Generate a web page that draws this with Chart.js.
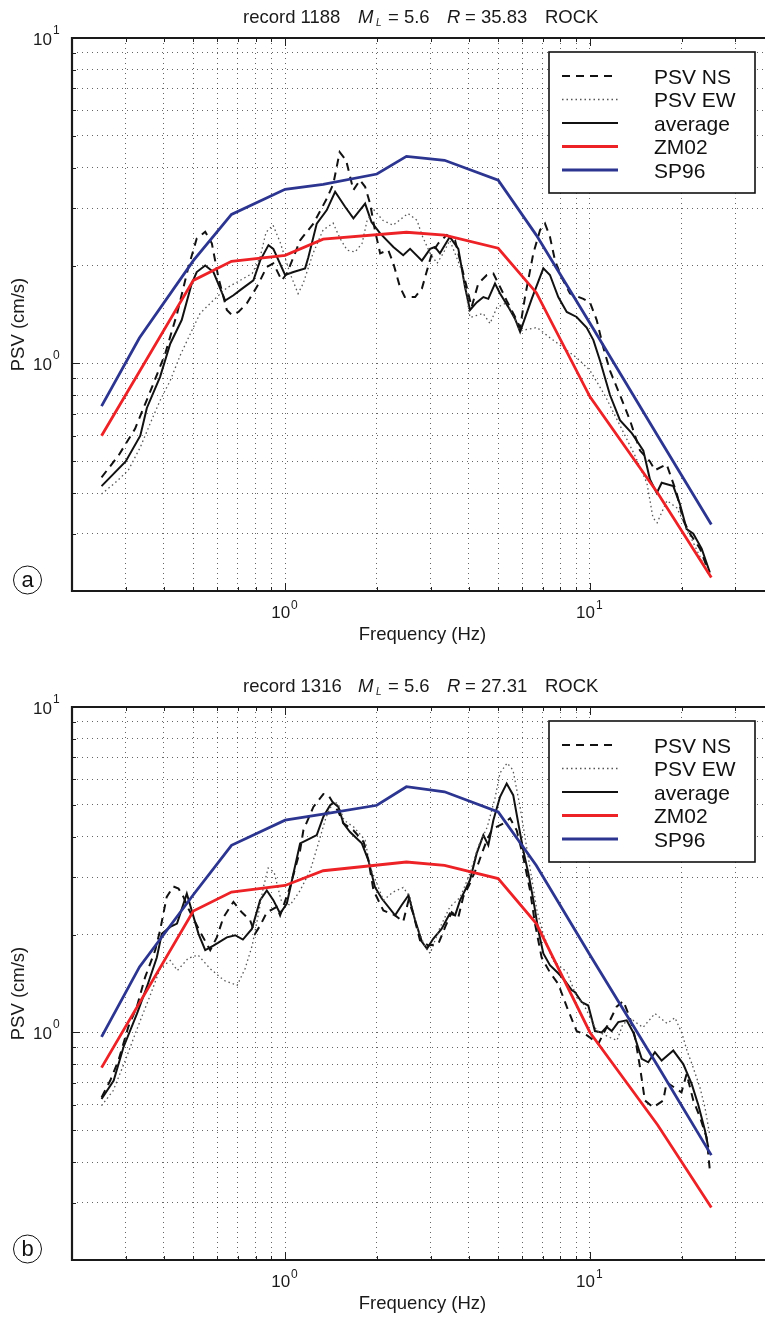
<!DOCTYPE html>
<html>
<head>
<meta charset="utf-8">
<script src="https://cdn.jsdelivr.net/npm/chart.js@4.4.0/dist/chart.umd.min.js"></script>
<style>
  html, body { margin: 0; padding: 0; background: #fff; }
  #wrap { position: relative; width: 765px; height: 1317px; overflow: hidden; }
  canvas { position: absolute; left: 0; }
</style>
</head>
<body>
<div id="wrap">
  <canvas id="chartA" width="765" height="669" style="top:0"></canvas>
  <canvas id="chartB" width="765" height="648" style="top:669px"></canvas>
</div>
<script>
// grid / tick positions (Hz and cm/s)
const xGrid = [0.2, 0.3, 0.4, 0.5, 0.6, 0.7, 0.8, 0.9, 1, 2, 3, 4, 5, 6, 7, 8, 9, 10, 20, 30];
const yGrid = [0.2, 0.3, 0.4, 0.5, 0.6, 0.7, 0.8, 0.9, 1, 2, 3, 4, 5, 6, 7, 8, 9, 10];

// model curves
const zmFreq = [0.25, 0.5, 0.667, 1, 1.333, 2.5, 3.333, 5, 6.667, 10, 16.67, 25];
const zmA = [0.60, 1.80, 2.06, 2.15, 2.41, 2.53, 2.48, 2.26, 1.65, 0.79, 0.40, 0.22];
const zmB = [0.78, 2.36, 2.70, 2.83, 3.14, 3.34, 3.26, 2.97, 2.16, 1.00, 0.52, 0.29];
const spFreq = [0.25, 0.333, 0.5, 0.667, 1, 1.333, 2, 2.5, 3.333, 5, 6.667, 10, 16.67, 25];
const spA = [0.74, 1.20, 2.07, 2.87, 3.43, 3.55, 3.82, 4.33, 4.21, 3.66, 2.48, 1.33, 0.60, 0.32];
const spB = [0.97, 1.59, 2.65, 3.76, 4.49, 4.69, 4.99, 5.69, 5.49, 4.76, 3.26, 1.73, 0.79, 0.42];

// record 1188
const nsFreqA = [0.25, 0.284, 0.322, 0.366, 0.404, 0.442, 0.482, 0.513, 0.547, 0.575, 0.604, 0.644, 0.669, 0.703, 0.749, 0.808, 0.871, 0.915, 0.975, 1.013, 1.065, 1.12, 1.238, 1.37, 1.44, 1.51, 1.585, 1.675, 1.76, 1.83, 1.90, 1.97, 2.05, 2.18, 2.265, 2.38, 2.47, 2.67, 2.81, 2.92, 3.03, 3.18, 3.39, 3.61, 3.75, 3.94, 4.09, 4.30, 4.59, 4.82, 5.07, 5.33, 5.68, 5.90, 6.12, 6.52, 6.86, 7.12, 7.39, 7.68, 8.07, 8.60, 9.51, 10.0, 10.52, 11.06, 11.63, 12.54, 13.52, 14.59, 15.73, 16.33, 17.84, 19.24, 20.23, 21.28, 22.95, 24.43];
const nsA = [0.447, 0.521, 0.63, 0.846, 1.07, 1.42, 1.98, 2.42, 2.54, 2.34, 1.84, 1.46, 1.41, 1.44, 1.53, 1.72, 1.98, 2.03, 1.80, 1.89, 2.12, 2.39, 2.69, 3.21, 3.57, 4.46, 4.21, 3.41, 3.66, 3.49, 3.10, 2.57, 2.18, 2.23, 2.03, 1.72, 1.60, 1.60, 1.70, 1.93, 2.18, 2.34, 2.48, 2.39, 2.07, 1.72, 1.49, 1.76, 1.87, 1.89, 1.72, 1.56, 1.39, 1.29, 1.60, 2.18, 2.57, 2.69, 2.45, 2.07, 1.84, 1.64, 1.58, 1.54, 1.36, 1.12, 0.95, 0.80, 0.67, 0.54, 0.50, 0.47, 0.49, 0.40, 0.33, 0.30, 0.27, 0.231];
const ewFreqA = [0.25, 0.277, 0.306, 0.335, 0.361, 0.389, 0.42, 0.453, 0.494, 0.526, 0.581, 0.645, 0.712, 0.78, 0.828, 0.866, 0.913, 0.963, 1.038, 1.103, 1.146, 1.235, 1.332, 1.437, 1.515, 1.597, 1.696, 1.789, 1.857, 1.958, 2.096, 2.26, 2.53, 2.71, 2.81, 2.99, 3.15, 3.30, 3.47, 3.83, 4.04, 4.46, 4.70, 4.95, 5.35, 5.90, 6.70, 7.39, 8.16, 9.06, 10.0, 11.2, 12.54, 14.05, 15.38, 16.09, 16.6, 17.89, 19.28, 20.33, 22.08, 24.4];
const ewA = [0.397, 0.43, 0.47, 0.553, 0.654, 0.77, 0.886, 1.06, 1.26, 1.425, 1.563, 1.71, 1.80, 1.89, 2.12, 2.53, 2.66, 2.36, 1.89, 1.64, 1.76, 2.18, 2.57, 2.70, 2.42, 2.23, 2.20, 2.34, 2.75, 2.96, 2.75, 2.66, 2.89, 2.75, 2.48, 2.18, 2.03, 2.18, 2.39, 1.89, 1.385, 1.425, 1.327, 1.486, 1.54, 1.26, 1.29, 1.20, 1.12, 1.04, 0.952, 0.797, 0.645, 0.521, 0.428, 0.336, 0.324, 0.379, 0.36, 0.324, 0.275, 0.226];
const avFreqA = [0.25, 0.30, 0.335, 0.352, 0.389, 0.42, 0.458, 0.494, 0.513, 0.547, 0.582, 0.636, 0.677, 0.712, 0.787, 0.828, 0.882, 0.915, 1.0, 1.065, 1.163, 1.192, 1.27, 1.37, 1.459, 1.573, 1.675, 1.83, 1.92, 2.05, 2.265, 2.44, 2.57, 2.81, 2.99, 3.10, 3.22, 3.47, 3.70, 3.89, 4.04, 4.25, 4.47, 4.64, 4.88, 5.07, 5.40, 5.68, 5.90, 6.44, 7.03, 7.39, 7.87, 8.39, 9.04, 9.75, 10.26, 10.79, 11.63, 12.54, 13.73, 14.96, 15.73, 16.56, 17.19, 18.76, 19.72, 20.75, 21.82, 23.24, 24.73];
const avA = [0.42, 0.50, 0.60, 0.73, 0.91, 1.15, 1.36, 1.76, 1.91, 2.00, 1.91, 1.56, 1.62, 1.68, 1.80, 2.07, 2.31, 2.25, 1.87, 1.91, 1.96, 2.12, 2.69, 2.96, 3.37, 3.03, 2.79, 3.10, 2.72, 2.51, 2.28, 2.15, 2.25, 2.07, 2.25, 2.28, 2.18, 2.45, 2.25, 1.72, 1.46, 1.54, 1.60, 1.58, 1.76, 1.64, 1.49, 1.37, 1.25, 1.58, 1.96, 1.87, 1.60, 1.44, 1.39, 1.29, 1.18, 1.02, 0.80, 0.67, 0.61, 0.54, 0.44, 0.40, 0.43, 0.42, 0.37, 0.31, 0.30, 0.27, 0.228];

// record 1316
const nsFreqB = [0.25, 0.267, 0.284, 0.306, 0.3265, 0.3475, 0.375, 0.389, 0.409, 0.43, 0.447, 0.464, 0.482, 0.526, 0.568, 0.597, 0.628, 0.677, 0.721, 0.768, 0.797, 0.828, 0.871, 0.939, 0.963, 1.038, 1.12, 1.148, 1.238, 1.335, 1.387, 1.496, 1.553, 1.675, 1.81, 1.876, 1.95, 2.10, 2.295, 2.44, 2.54, 2.63, 2.77, 2.95, 3.18, 3.35, 3.52, 3.70, 3.84, 4.04, 4.30, 4.42, 4.59, 4.76, 4.94, 5.20, 5.47, 5.75, 6.04, 6.36, 6.6, 6.94, 7.39, 7.87, 8.39, 9.04, 9.78, 10.65, 11.35, 12.23, 12.86, 13.52, 14.05, 14.59, 15.14, 16.13, 17.39, 17.84, 19.96, 20.75, 21.82, 22.95, 24.13, 24.73];
const nsB = [0.632, 0.712, 0.82, 1.04, 1.20, 1.48, 1.79, 2.06, 2.61, 2.81, 2.77, 2.61, 2.40, 2.04, 1.79, 1.96, 2.26, 2.52, 2.34, 2.21, 2.01, 2.13, 2.34, 2.43, 2.29, 2.80, 3.63, 4.18, 4.93, 5.40, 5.36, 4.76, 4.39, 4.18, 3.85, 3.38, 2.73, 2.37, 2.29, 2.19, 2.55, 2.32, 1.92, 1.85, 1.87, 2.11, 2.34, 2.26, 2.61, 2.87, 3.30, 3.55, 3.90, 4.18, 4.28, 4.39, 4.55, 4.18, 3.46, 2.73, 2.16, 1.70, 1.53, 1.41, 1.20, 1.01, 0.98, 0.923, 1.04, 1.20, 1.25, 1.11, 0.967, 0.782, 0.618, 0.589, 0.618, 0.703, 0.655, 0.746, 0.618, 0.549, 0.476, 0.376];
const ewFreqB = [0.25, 0.273, 0.299, 0.33, 0.361, 0.389, 0.42, 0.443, 0.481, 0.518, 0.568, 0.631, 0.696, 0.739, 0.78, 0.816, 0.847, 0.88, 0.92, 0.97, 1.038, 1.12, 1.21, 1.28, 1.363, 1.437, 1.49, 1.561, 1.683, 1.83, 1.90, 2.00, 2.10, 2.26, 2.44, 2.57, 2.71, 2.88, 2.99, 3.22, 3.47, 3.75, 4.04, 4.29, 4.60, 4.88, 5.07, 5.35, 5.59, 5.90, 6.22, 6.70, 7.01, 7.56, 8.41, 9.06, 9.49, 10.54, 11.63, 12.26, 12.84, 13.84, 14.92, 16.33, 17.89, 19.0, 20.03, 20.8, 21.6, 22.95, 23.83, 24.73];
const ewB = [0.596, 0.663, 0.82, 1.05, 1.30, 1.57, 1.665, 1.55, 1.69, 1.73, 1.57, 1.445, 1.395, 1.57, 1.85, 2.29, 2.77, 3.20, 3.11, 2.55, 2.46, 2.73, 3.15, 3.76, 4.59, 5.10, 5.06, 4.49, 4.27, 3.90, 3.22, 2.87, 2.55, 2.70, 2.79, 2.60, 2.10, 1.83, 1.75, 2.10, 2.43, 2.60, 3.08, 3.71, 4.27, 5.25, 6.27, 6.73, 6.40, 4.92, 3.63, 2.37, 2.02, 1.665, 1.53, 1.28, 1.23, 1.01, 0.965, 0.945, 1.066, 1.09, 1.036, 1.144, 1.066, 1.11, 0.993, 0.88, 0.80, 0.677, 0.588, 0.482];
const avFreqB = [0.25, 0.274, 0.295, 0.3265, 0.352, 0.3795, 0.394, 0.42, 0.442, 0.476, 0.494, 0.52, 0.547, 0.582, 0.644, 0.686, 0.727, 0.778, 0.828, 0.871, 0.915, 0.963, 1.013, 1.065, 1.12, 1.178, 1.27, 1.335, 1.405, 1.44, 1.496, 1.553, 1.633, 1.785, 1.876, 1.97, 2.075, 2.295, 2.41, 2.54, 2.67, 2.81, 2.92, 3.06, 3.26, 3.47, 3.61, 3.75, 3.89, 4.04, 4.25, 4.47, 4.64, 4.82, 5.07, 5.33, 5.60, 5.82, 6.04, 6.28, 6.52, 6.77, 7.03, 7.39, 7.87, 8.26, 8.71, 8.93, 9.39, 9.87, 10.38, 10.92, 11.35, 11.78, 12.38, 13.19, 13.87, 14.78, 15.53, 16.33, 17.18, 18.76, 20.23, 21.55, 22.65, 23.83, 24.43];
const avB = [0.625, 0.712, 0.901, 1.14, 1.38, 1.70, 2.01, 2.11, 2.16, 2.67, 2.37, 2.01, 1.79, 1.85, 1.96, 1.99, 1.93, 2.08, 2.55, 2.73, 2.55, 2.32, 2.49, 3.08, 3.81, 3.90, 4.04, 4.60, 4.99, 5.08, 4.93, 4.39, 4.13, 3.81, 3.38, 2.80, 2.58, 2.29, 2.46, 2.64, 2.21, 1.90, 1.81, 1.94, 2.08, 2.32, 2.29, 2.55, 2.73, 2.94, 3.55, 4.04, 3.76, 4.49, 5.30, 5.82, 5.36, 4.39, 3.63, 3.08, 2.55, 2.06, 1.75, 1.61, 1.52, 1.445, 1.35, 1.33, 1.24, 1.21, 1.01, 1.00, 1.04, 1.01, 1.076, 1.09, 1.00, 0.83, 0.81, 0.87, 0.82, 0.88, 0.80, 0.695, 0.60, 0.50, 0.444];

const FONT = '"Liberation Sans", Arial, Helvetica, sans-serif';
const RED = '#ec2227';
const BLUE = '#2c3590';

function pts(fs, vs) {
    return fs.map((f, i) => ({ x: f, y: vs[i] }));
}

function isDecade(v) {
    const l = Math.log10(v);
    return Math.abs(l - Math.round(l)) < 1e-6;
}

// axes box, inner ticks, labels, legend, panel letter
const decor = {
    id: 'decor',
    afterDraw(chart) {
        const o = chart.options.plugins.decor;
        const ctx = chart.ctx;
        const a = chart.chartArea;
        const xs = chart.scales.x, ys = chart.scales.y;
        ctx.save();

        ctx.strokeStyle = '#222';
        ctx.lineWidth = 1;
        ctx.beginPath();
        xs.ticks.forEach(t => {
            const px = Math.round(xs.getPixelForValue(t.value)) + 0.5;
            const len = isDecade(t.value) ? 8 : 4;
            ctx.moveTo(px, a.bottom); ctx.lineTo(px, a.bottom - len);
            ctx.moveTo(px, a.top); ctx.lineTo(px, a.top + len);
        });
        ys.ticks.forEach(t => {
            const py = Math.round(ys.getPixelForValue(t.value)) + 0.5;
            const len = isDecade(t.value) ? 8 : 4;
            ctx.moveTo(a.left, py); ctx.lineTo(a.left + len, py);
        });
        ctx.stroke();

        // box
        ctx.lineWidth = 2.2;
        ctx.strokeStyle = '#1a1a1a';
        ctx.beginPath();
        ctx.moveTo(a.right + 2, a.top);
        ctx.lineTo(a.left, a.top);
        ctx.lineTo(a.left, a.bottom);
        ctx.lineTo(a.right + 2, a.bottom);
        ctx.stroke();

        // tick labels 10^n
        ctx.fillStyle = '#1a1a1a';
        ctx.textBaseline = 'alphabetic';
        xs.ticks.forEach(t => {
            if (!isDecade(t.value)) return;
            const px = xs.getPixelForValue(t.value);
            ctx.font = '17px ' + FONT;
            ctx.textAlign = 'right';
            ctx.fillText('10', px + 5, a.bottom + 27);
            ctx.font = '12px ' + FONT;
            ctx.textAlign = 'left';
            ctx.fillText(String(Math.round(Math.log10(t.value))), px + 6, a.bottom + 18);
        });
        ys.ticks.forEach(t => {
            if (!isDecade(t.value)) return;
            const py = ys.getPixelForValue(t.value);
            ctx.font = '17px ' + FONT;
            ctx.textAlign = 'right';
            ctx.fillText('10', 52, py + 7);
            ctx.font = '12px ' + FONT;
            ctx.textAlign = 'left';
            ctx.fillText(String(Math.round(Math.log10(t.value))), 53, py - 4);
        });

        // axis titles
        ctx.font = '18.5px ' + FONT;
        ctx.textAlign = 'center';
        ctx.fillText('Frequency (Hz)', 422.5, a.bottom + 49);
        ctx.save();
        ctx.translate(24, (a.top + a.bottom) / 2 + 10);
        ctx.rotate(-Math.PI / 2);
        ctx.fillText('PSV (cm/s)', 0, 0);
        ctx.restore();

        // title
        const ty = 23;
        ctx.textAlign = 'left';
        ctx.font = '18.5px ' + FONT;
        ctx.fillText('record ' + o.record, 243, ty);
        ctx.font = 'italic 18.5px ' + FONT;
        ctx.fillText('M', 358, ty);
        ctx.font = 'italic 10px ' + FONT;
        ctx.fillText('L', 376, ty + 3);
        ctx.font = '18.5px ' + FONT;
        ctx.fillText('= ' + o.ml, 388, ty);
        ctx.font = 'italic 18.5px ' + FONT;
        ctx.fillText('R', 447, ty);
        ctx.font = '18.5px ' + FONT;
        ctx.fillText('= ' + o.dist, 465, ty);
        ctx.fillText(o.site, 545, ty);

        // legend
        const L = 549, T = a.top + 14, W = 206, H = 141;
        ctx.fillStyle = '#fff';
        ctx.fillRect(L, T, W, H);
        ctx.lineWidth = 1.6;
        ctx.strokeStyle = '#111';
        ctx.strokeRect(L, T, W, H);
        chart.data.datasets.forEach((ds, i) => {
            const y = T + 24 + 23.5 * i;
            ctx.save();
            ctx.strokeStyle = ds.borderColor;
            ctx.lineWidth = ds.borderWidth;
            ctx.setLineDash(ds.borderDash || []);
            ctx.beginPath();
            ctx.moveTo(562, y);
            ctx.lineTo(618, y);
            ctx.stroke();
            ctx.restore();
            ctx.fillStyle = '#111';
            ctx.font = '21px ' + FONT;
            ctx.textAlign = 'left';
            ctx.fillText(ds.label, 654, y + 7.5);
        });

        // panel letter
        ctx.lineWidth = 1;
        ctx.strokeStyle = '#111';
        ctx.beginPath();
        ctx.arc(27.5, a.bottom - 11, 14, 0, Math.PI * 2);
        ctx.stroke();
        ctx.fillStyle = '#111';
        ctx.font = '22px ' + FONT;
        ctx.textAlign = 'center';
        ctx.fillText(o.letter, 27.5, a.bottom - 4);

        ctx.restore();
    }
};

function makeChart(id, h, series, info) {
    const gridStyle = { color: 'rgba(0,0,0,0.6)', lineWidth: 1, drawTicks: false };
    new Chart(document.getElementById(id).getContext('2d'), {
        type: 'scatter',
        data: {
            datasets: [
                { label: 'PSV NS', data: pts(series.nsF, series.ns), borderColor: '#111', borderWidth: 2, borderDash: [8, 6], order: 1 },
                { label: 'PSV EW', data: pts(series.ewF, series.ew), borderColor: '#555', borderWidth: 1.3, borderDash: [1.5, 3], order: 1 },
                { label: 'average', data: pts(series.avF, series.av), borderColor: '#111', borderWidth: 2, order: 1 },
                { label: 'ZM02', data: pts(zmFreq, series.zm), borderColor: RED, borderWidth: 2.8, order: 0 },
                { label: 'SP96', data: pts(spFreq, series.sp), borderColor: BLUE, borderWidth: 2.8, order: 0 }
            ].map(d => Object.assign(d, { showLine: true, pointRadius: 0, fill: false, tension: 0 }))
        },
        options: {
            responsive: false,
            animation: false,
            devicePixelRatio: 1,
            layout: { padding: { top: 38, left: 0, right: 0, bottom: 0 } },
            plugins: {
                legend: { display: false },
                title: { display: false },
                tooltip: { enabled: false },
                decor: info
            },
            scales: {
                x: {
                    type: 'logarithmic', position: 'bottom', min: 0.2, max: 37.5,
                    afterBuildTicks: s => { s.ticks = xGrid.map(v => ({ value: v })); },
                    afterFit: s => { s.height = h - 591; },
                    ticks: { display: false },
                    grid: gridStyle,
                    border: { display: false, dash: [1, 4] }
                },
                y: {
                    type: 'logarithmic', position: 'left', min: 0.2, max: 10,
                    afterBuildTicks: s => { s.ticks = yGrid.map(v => ({ value: v })); },
                    afterFit: s => { s.width = 72; },
                    ticks: { display: false },
                    grid: gridStyle,
                    border: { display: false, dash: [1, 4] }
                }
            }
        },
        plugins: [decor]
    });
}

makeChart('chartA', 669,
    { nsF: nsFreqA, ns: nsA, ewF: ewFreqA, ew: ewA, avF: avFreqA, av: avA, zm: zmA, sp: spA },
    { record: '1188', ml: '5.6', dist: '35.83', site: 'ROCK', letter: 'a' });
makeChart('chartB', 648,
    { nsF: nsFreqB, ns: nsB, ewF: ewFreqB, ew: ewB, avF: avFreqB, av: avB, zm: zmB, sp: spB },
    { record: '1316', ml: '5.6', dist: '27.31', site: 'ROCK', letter: 'b' });
</script>
</body>
</html>
